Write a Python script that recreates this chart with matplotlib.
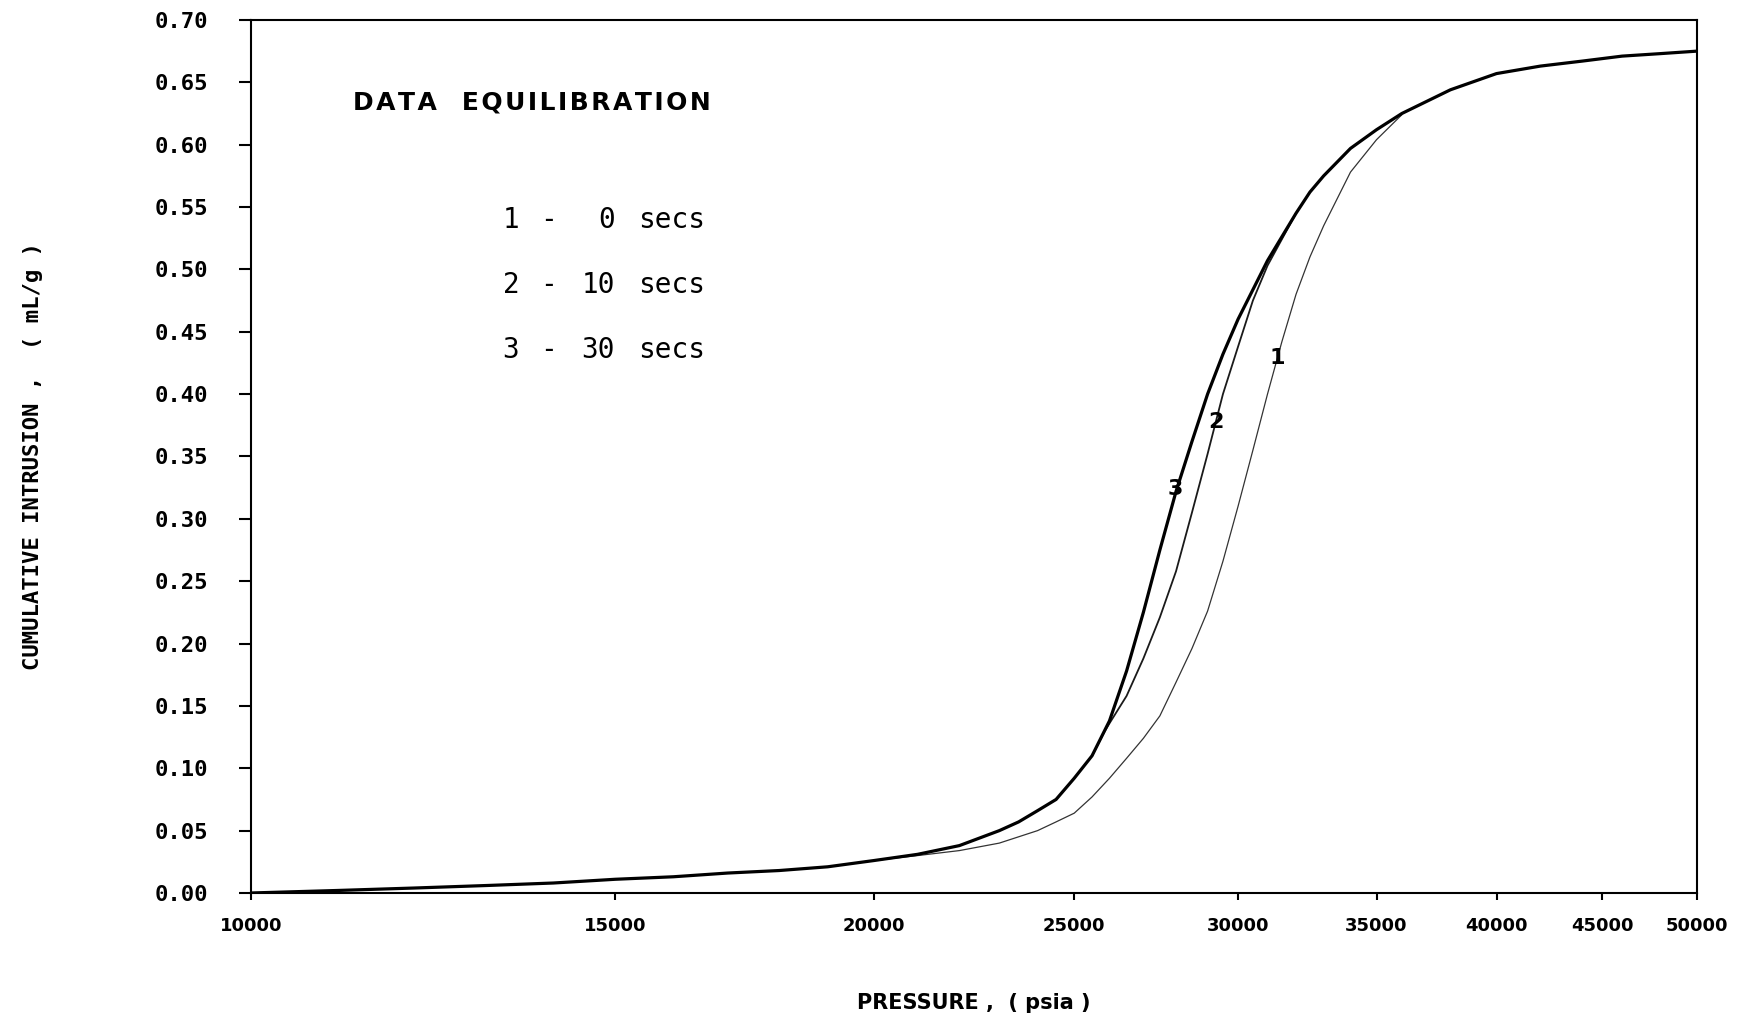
import matplotlib
matplotlib.use("Agg")
import matplotlib.pyplot as plt
from matplotlib.ticker import FixedLocator, NullLocator

# pressure (psia) / cumulative intrusion (mL/g)
p3 = [10000, 11000, 12000, 13000, 14000, 15000, 16000, 17000, 18000, 19000,
      20000, 21000, 22000, 23000, 23500, 24000, 24500, 25000, 25500, 26000,
      26500, 27000, 27500, 28000, 28500, 29000, 29500, 30000, 31000, 32000,
      32500, 33000, 34000, 35000, 36000, 38000, 40000, 42000, 44000, 46000,
      48000, 50000]
v3 = [0.000, 0.002, 0.004, 0.006, 0.008, 0.011, 0.013, 0.016, 0.018, 0.021,
      0.026, 0.031, 0.038, 0.050, 0.057, 0.066, 0.075, 0.092, 0.110, 0.138,
      0.178, 0.225, 0.275, 0.322, 0.362, 0.400, 0.432, 0.460, 0.507, 0.545,
      0.562, 0.575, 0.597, 0.612, 0.625, 0.644, 0.657, 0.663, 0.667, 0.671,
      0.673, 0.675]

p2 = [25500, 25870, 26000, 26500, 27000, 27500, 28000, 28500, 29000, 29500,
      30000, 30500, 31000, 32000]
v2 = [0.110, 0.130, 0.136, 0.158, 0.188, 0.221, 0.258, 0.305, 0.352, 0.400,
      0.438, 0.475, 0.503, 0.545]

p1 = [20000, 21000, 22000, 23000, 24000, 24500, 25000, 25500, 26000, 26500,
      27000, 27500, 28000, 28500, 29000, 29500, 30000, 30500, 31000, 31500,
      32000, 32500, 33000, 34000, 35000, 36000]
v1 = [0.026, 0.030, 0.034, 0.040, 0.050, 0.057, 0.064, 0.077, 0.092, 0.108,
      0.124, 0.142, 0.169, 0.196, 0.226, 0.266, 0.310, 0.355, 0.400, 0.442,
      0.480, 0.510, 0.535, 0.578, 0.604, 0.624]

x_ticks = [10000, 15000, 20000, 25000, 30000, 35000, 40000, 45000, 50000]
y_ticks = [0.00, 0.05, 0.10, 0.15, 0.20, 0.25, 0.30, 0.35, 0.40, 0.45,
           0.50, 0.55, 0.60, 0.65, 0.70]

legend_nums = ["1", "2", "3"]
legend_secs = ["0", "10", "30"]

# curve number labels (pressure, intrusion)
lab_p = [31330, 29260, 27990]
lab_v = [0.429, 0.378, 0.324]

fig = plt.figure(figsize=(17.43, 10.18), dpi=100)
ax = fig.add_axes([0.144, 0.1228, 0.8296, 0.8576])

ax.plot(p1, v1, color="0.2", lw=0.9)
ax.plot(p2, v2, color="0.1", lw=1.3)
ax.plot(p3, v3, color="black", lw=2.3)

ax.set_xscale("log")
ax.set_xlim(10000, 50000)
ax.set_ylim(0, 0.70)

ax.xaxis.set_major_locator(FixedLocator(x_ticks))
ax.xaxis.set_minor_locator(NullLocator())
ax.set_xticklabels([str(t) for t in x_ticks])
ax.set_yticks(y_ticks)
ax.set_yticklabels([f"{t:.2f}" for t in y_ticks])

for lab in ax.get_xticklabels():
    lab.set_family("DejaVu Sans")
    lab.set_fontweight("bold")
    lab.set_fontsize(13)
for lab in ax.get_yticklabels():
    lab.set_family("DejaVu Sans Mono")
    lab.set_fontweight("bold")
    lab.set_fontsize(16)

ax.tick_params(axis="y", direction="out", length=9, width=1.5, pad=22)
ax.tick_params(axis="x", direction="out", length=5, width=1.5, pad=12)
for s in ax.spines.values():
    s.set_linewidth(1.5)

ax.set_xlabel("PRESSURE ,  ( psia )", family="DejaVu Sans", fontweight="bold",
              fontsize=15)
ax.xaxis.set_label_coords(0.5, -0.115)
ax.set_ylabel("CUMULATIVE INTRUSION ,  ( mL/g )", family="DejaVu Sans Mono",
              fontweight="bold", fontsize=16)
ax.yaxis.set_label_coords(-0.144, 0.5)

hs = "\u200a"
title = hs.join("DATA") + "\u2003" + hs.join("EQUILIBRATION")
ax.text(0.0705, 0.905, title, transform=ax.transAxes,
        fontsize=18, fontweight="bold", va="center", ha="left")

rows = [0.771, 0.696, 0.622]
for n, s, y in zip(legend_nums, legend_secs, rows):
    ax.text(0.174, y, n, transform=ax.transAxes, family="DejaVu Sans Mono",
            fontsize=20, va="center", ha="left")
    ax.text(0.2055, y, "-", transform=ax.transAxes, family="DejaVu Sans Mono",
            fontsize=20, va="center", ha="center")
    ax.text(0.2517, y, s, transform=ax.transAxes, family="DejaVu Sans Mono",
            fontsize=20, va="center", ha="right")
    ax.text(0.2676, y, "secs", transform=ax.transAxes, family="DejaVu Sans Mono",
            fontsize=20, va="center", ha="left")

for n, px, py in zip(legend_nums, lab_p, lab_v):
    ax.text(px, py, n, fontsize=16, fontweight="bold", ha="center", va="center")

fig.savefig("out.png", dpi=100)
